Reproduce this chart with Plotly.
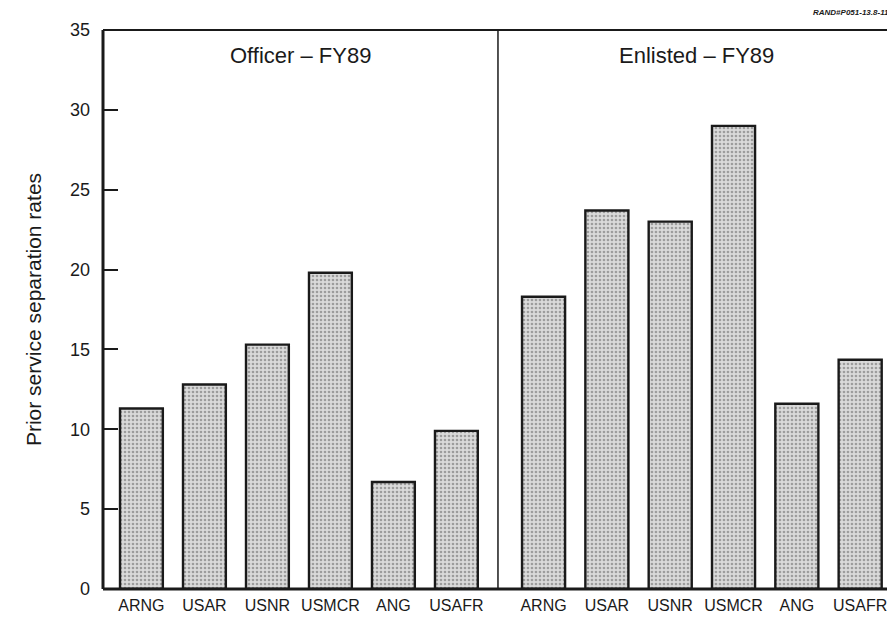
"""Prior service separation rates, FY89 -- officer vs enlisted panels."""

import plotly.graph_objects as go

COMPONENTS = ["ARNG", "USAR", "USNR", "USMCR", "ANG", "USAFR"]
OFFICER_RATES = [11.3, 12.8, 15.3, 19.8, 6.7, 9.9]
ENLISTED_RATES = [18.3, 23.7, 23.0, 29.0, 11.6, 14.35]
PANEL_TITLES = ["Officer \u2013 FY89", "Enlisted \u2013 FY89"]
Y_MAX = 35
Y_STEP = 5

FONT = "Liberation Sans, Arial, Helvetica, sans-serif"
INK = "#1a1a1a"
SPLIT = 0.4987

# the page body adds an 8px margin, so the figure is sized to fill the rest
bar_style = dict(
    marker_color="#d6d6d6",
    marker_line_color=INK,
    marker_line_width=2.4,
    marker_pattern=dict(shape=".", fgcolor="#5e5e5e", bgcolor="#dadada", size=4, solidity=0.35),
    showlegend=False,
)

fig = go.Figure()
fig.add_bar(x=COMPONENTS, y=OFFICER_RATES, xaxis="x", yaxis="y", **bar_style)
fig.add_bar(x=COMPONENTS, y=ENLISTED_RATES, xaxis="x2", yaxis="y", **bar_style)

xcommon = dict(
    type="category",
    showgrid=False,
    zeroline=False,
    ticks="",
    tickfont=dict(family=FONT, size=16, color=INK),
    ticklabelstandoff=5,
    showline=False,
    anchor="y",
)

fig.update_layout(
    width=887,
    height=612,
    paper_bgcolor="white",
    plot_bgcolor="white",
    margin=dict(l=95, r=0, t=22, b=31),
    bargap=0.32,
    font=dict(family=FONT, color=INK),
    xaxis=dict(domain=[0, SPLIT], range=[-0.61, 5.66], **xcommon),
    xaxis2=dict(domain=[SPLIT, 1.0], range=[-0.72, 5.55], **xcommon),
    yaxis=dict(
        range=[0, Y_MAX],
        tickmode="linear",
        tick0=0,
        dtick=Y_STEP,
        ticks="inside",
        ticklen=15,
        tickwidth=1.6,
        tickcolor=INK,
        showgrid=False,
        zeroline=False,
        showline=False,
        tickfont=dict(family=FONT, size=18, color=INK),
        ticklabelstandoff=12,
        title=dict(text="Prior service separation rates", font=dict(family=FONT, size=21, color=INK), standoff=22),
    ),
    # half-step ticks on an overlaid twin axis
    yaxis2=dict(
        overlaying="y",
        side="left",
        anchor="x",
        range=[0, Y_MAX],
        tickmode="linear",
        tick0=Y_STEP / 2,
        dtick=Y_STEP,
        ticks="inside",
        ticklen=8,
        tickwidth=1.2,
        tickcolor=INK,
        showticklabels=False,
        showgrid=False,
        zeroline=False,
        showline=False,
    ),
)

# panel frame: thick left and bottom, thin top and divider
fig.add_shape(type="line", xref="paper", yref="paper", x0=0, x1=0, y0=0, y1=1, line=dict(color=INK, width=3))
fig.add_shape(type="line", xref="paper", yref="paper", x0=0, x1=1, y0=0, y1=0, line=dict(color=INK, width=3))
fig.add_shape(type="line", xref="paper", yref="paper", x0=0, x1=1, y0=1, y1=1, line=dict(color=INK, width=1.8))
fig.add_shape(type="line", xref="paper", yref="paper", x0=SPLIT, x1=SPLIT, y0=0, y1=1, line=dict(color=INK, width=1.5))

for title, cx in zip(PANEL_TITLES, [SPLIT / 2, (SPLIT + 1.0) / 2]):
    fig.add_annotation(
        text=title, xref="paper", yref="paper", x=cx, y=0.955,
        xanchor="center", yanchor="middle", showarrow=False,
        font=dict(family=FONT, size=22, color=INK),
    )

fig.add_annotation(
    text="<b><i>RAND#P051-13.8-119</i></b>", xref="paper", yref="paper", x=1.0, y=1.0,
    xanchor="right", yanchor="middle", yshift=18, showarrow=False,
    font=dict(family=FONT, size=8, color=INK),
)

fig.write_html("out.html")
